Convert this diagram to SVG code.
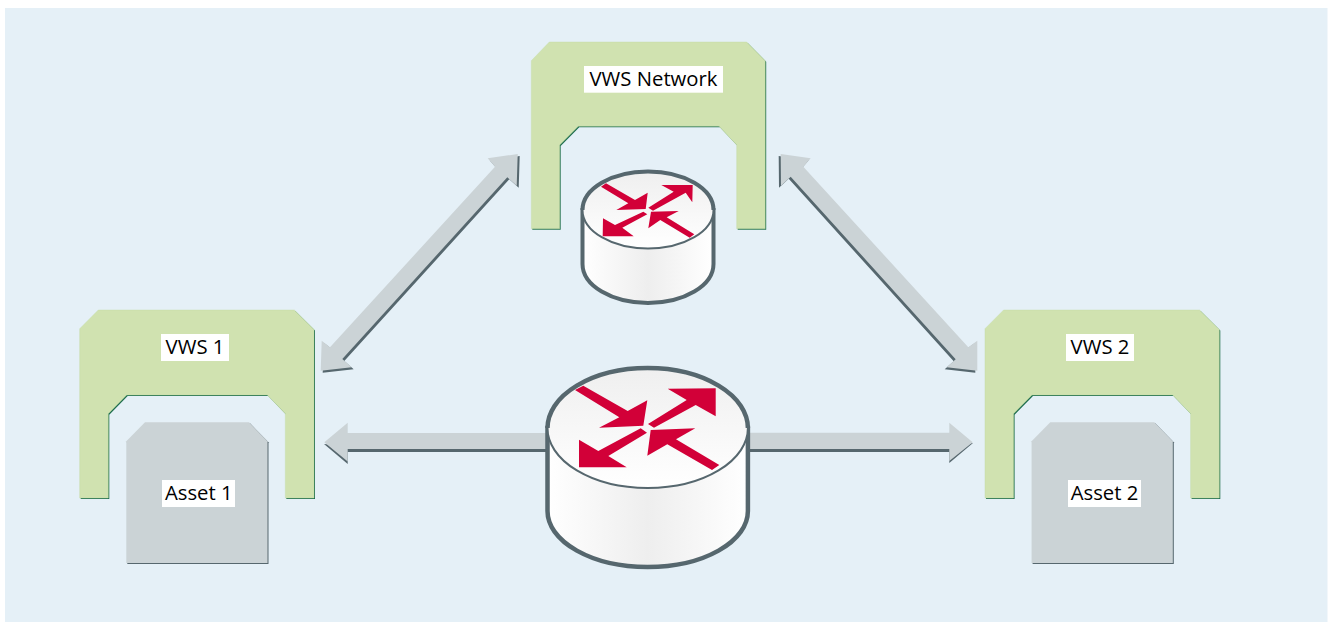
<svg xmlns="http://www.w3.org/2000/svg" xmlns:xlink="http://www.w3.org/1999/xlink" width="1331" height="622" viewBox="0 0 1331 622">
<style>
.bg{fill:#e5f0f7}
.green{fill:#d0e2b0;stroke:#c3dba4;stroke-width:.4}
.gshadow{fill:#1e6e4e}
.grey{fill:#cbd3d6}
.dark{fill:#56676e}
.lab{fill:#fff}
.red{fill:#d20038}
.rline{stroke:#56676e;fill:none}
.rbody{stroke:#56676e;fill:url(#gb)}
text{font-family:"Open Sans","Noto Sans",sans-serif;font-size:20.300px;fill:#000;text-anchor:middle}
</style>
<defs>
<linearGradient id="gt" x1="0" y1="0" x2="0" y2="1"><stop offset="0" stop-color="#efefef"/><stop offset="1" stop-color="#fff"/></linearGradient>
<linearGradient id="gb" x1="0" y1="0" x2="1" y2="0"><stop offset="0" stop-color="#fff"/><stop offset=".5" stop-color="#eee"/><stop offset="1" stop-color="#fff"/></linearGradient>
<polygon id="vws" points="79.7,328.7 98.3,310 294.3,310 314,329.500 314,498 285.3,498 285.3,413.7 267.3,395 126.7,395 108.3,413.7 108.3,498 79.7,498"/>
<polygon id="asset" points="126.3,441.3 145,422.3 249,422.3 267.5,441.3 267.5,563 126.3,563"/>
</defs>
<rect class="bg" x="5" y="8" width="1322.5" height="614"/>
<g id="connectors">
<polygon class="dark" transform="translate(2,2)" points="517.7,154 487.7,158.3 495,166.7 330,347.3 321.7,340.7 320.7,370.7 351.7,367.3 342.3,359 507.3,177.3 516.7,185.7"/>
<polygon class="grey" points="517.7,154 487.7,158.3 495,166.7 330,347.3 321.7,340.7 320.7,370.7 351.7,367.3 342.3,359 507.3,177.3 516.7,185.7"/>
<polygon class="dark" transform="translate(-2,2)" points="780.7,154 810.7,158.3 803.3,166.7 968.3,347.3 977.3,340.7 977.3,370.7 946.7,367.3 955.7,359.3 790.7,176.7 781,185.7"/>
<polygon class="grey" points="780.7,154 810.7,158.3 803.3,166.7 968.3,347.3 977.3,340.7 977.3,370.7 946.7,367.3 955.7,359.3 790.7,176.7 781,185.7"/>
<polygon class="dark" points="324,444 347.7,464 347.7,452 560,452 560,446 347.7,446"/>
<polygon class="grey" points="324.3,442.3 347.7,422.7 347.7,433 560,433 560,449 347.7,449 347.7,461.500"/>
<polygon class="dark" points="973,443 949.3,463 949.3,452 740,452 740,446 949.3,446"/>
<polygon class="grey" points="972.7,442.3 949.3,422.7 949.3,432.7 740,432.7 740,449 949.3,449 949.3,461"/>
</g>
<g id="vws-network">
<polygon class="gshadow" transform="translate(1,1)" points="531.3,60.7 549.3,42 746.7,42 765.2,60.7 765.2,228.800 736.7,228.800 736.7,145 719,126.3 578.3,126.3 559.7,145 559.7,228.800 531.3,228.800"/>
<polygon class="green" points="531.3,60.7 549.3,42 746.7,42 765.2,60.7 765.2,228.800 736.7,228.800 736.7,145 719,126.3 578.3,126.3 559.7,145 559.7,228.800 531.3,228.800"/>
<rect class="lab" x="584" y="66" width="139" height="26.700"/>
<text x="653.500" y="86">VWS Network</text>
</g>
<g id="router-small">
<path d="M582.5,210V264A65.5,39 0 0 0 713.5,264V210Z" class="rbody" stroke-width="4"/>
<ellipse cx="648" cy="210" rx="65.5" ry="38.5" fill="url(#gt)"/>
<path class="rline" stroke-width="2" d="M582.5,210A65.500,38.500 0 0 0 713.500,210"/>
<path class="rline" stroke-width="4" d="M582.5,210A65.500,38.500 0 0 1 713.500,210"/>
<polygon class="red" points="601,186.700 606,183.300 635,200 647.700,192.700 645.700,209 616.300,210 628.300,203.300"/>
<polygon class="red" points="648.300,207.700 653,210.700 685.700,192.700 692.300,202.300 692.700,185 661.300,185 673.700,191.700"/>
<polygon class="red" points="643.300,211.700 647.300,214.300 622.300,227.700 633.700,236.300 602.700,236.300 603,218.300 615,225"/>
<polygon class="red" points="694.300,234.300 689.700,237.700 660.300,220 648.300,228.300 651,211.700 678.700,211 666.700,217.300"/>
</g>
<g id="vws-1">
<use href="#vws" class="gshadow" transform="translate(1,1)"/>
<use href="#vws" class="green"/>
<rect class="lab" x="161" y="334" width="68" height="27"/>
<text x="195" y="354">VWS 1</text>
</g>
<g id="asset-1">
<use href="#asset" class="dark" transform="translate(1,1)"/>
<use href="#asset" class="grey"/>
<rect class="lab" x="162" y="480" width="73" height="27"/>
<text x="198.800" y="500">Asset 1</text>
</g>
<g id="router-big">
<path d="M547.5,428V511A100.200,56 0 0 0 747.900,511V428Z" class="rbody" stroke-width="4.500"/>
<ellipse cx="647.700" cy="428" rx="100.200" ry="60" fill="url(#gt)"/>
<path class="rline" stroke-width="2" d="M547.500,428A100.200,60 0 0 0 747.900,428"/>
<path class="rline" stroke-width="4.500" d="M547.500,428A100.200,60 0 0 1 747.900,428"/>
<polygon class="red" points="575,390 583.300,385.700 627.700,411 647.300,400.300 643.300,425.700 599,427.700 619.300,417.300"/>
<polygon class="red" points="648,424 654,427.700 695.700,405 715.700,416.300 715.700,388.300 667.700,388.700 686.700,400"/>
<polygon class="red" points="640.700,428.300 647,432.700 608.300,456 626.700,467.300 579,467.300 579,439.700 598.300,451"/>
<polygon class="red" points="719.300,465 712,470 667.300,444.300 647.300,455.700 650.700,430 695.300,428.300 676,439.300"/>
</g>
<g id="vws-2">
<use href="#vws" class="gshadow" transform="translate(906.300,1)"/>
<use href="#vws" class="green" transform="translate(905.300,0)"/>
<rect class="lab" x="1066" y="334" width="68" height="27"/>
<text x="1100" y="354">VWS 2</text>
</g>
<g id="asset-2">
<use href="#asset" class="dark" transform="translate(906.300,1)"/>
<use href="#asset" class="grey" transform="translate(905.300,0)"/>
<rect class="lab" x="1068" y="480" width="73" height="27"/>
<text x="1104.500" y="500">Asset 2</text>
</g>
</svg>
